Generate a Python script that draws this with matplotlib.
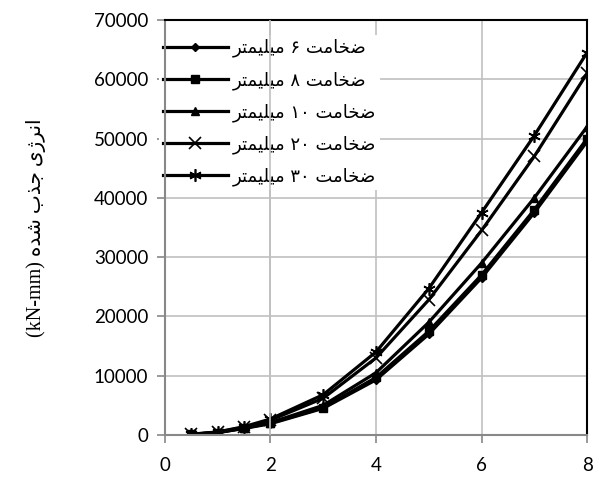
import matplotlib.pyplot as plt

# data
thickness = [0.5, 1, 1.5, 2, 3, 4, 5, 6, 7, 8]
e6 = [100, 400, 1100, 1900, 4500, 9300, 17000, 26500, 37500, 49500]
e8 = [100, 400, 1150, 2000, 4600, 9700, 17500, 27000, 38000, 50000]
e10 = [100, 420, 1200, 2100, 5000, 10500, 19000, 29000, 40000, 52000]
e20 = [120, 480, 1300, 2500, 6200, 13000, 22800, 34500, 47000, 61000]
e30 = [130, 520, 1400, 2700, 6800, 14000, 24700, 37500, 50500, 64500]

names = ['ضخامت ۶ میلیمتر', 'ضخامت ۸ میلیمتر', 'ضخامت ۱۰ میلیمتر',
         'ضخامت ۲۰ میلیمتر', 'ضخامت ۳۰ میلیمتر']
ylabel_fa = 'انرژی جذب شده'

# minimal persian shaping (matplotlib has no arabic shaping)
FORMS = {
    'ا': ('\uFE8D', '\uFE8E'),
    'ب': ('\uFE8F', '\uFE90', '\uFE91', '\uFE92'),
    'ت': ('\uFE95', '\uFE96', '\uFE97', '\uFE98'),
    'ج': ('\uFE9D', '\uFE9E', '\uFE9F', '\uFEA0'),
    'خ': ('\uFEA5', '\uFEA6', '\uFEA7', '\uFEA8'),
    'د': ('\uFEA9', '\uFEAA'),
    'ذ': ('\uFEAB', '\uFEAC'),
    'ر': ('\uFEAD', '\uFEAE'),
    'ژ': ('\uFB8A', '\uFB8B'),
    'ش': ('\uFEB5', '\uFEB6', '\uFEB7', '\uFEB8'),
    'ض': ('\uFEBD', '\uFEBE', '\uFEBF', '\uFEC0'),
    'ل': ('\uFEDD', '\uFEDE', '\uFEDF', '\uFEE0'),
    'م': ('\uFEE1', '\uFEE2', '\uFEE3', '\uFEE4'),
    'ن': ('\uFEE5', '\uFEE6', '\uFEE7', '\uFEE8'),
    'ه': ('\uFEE9', '\uFEEA', '\uFEEB', '\uFEEC'),
    'ی': ('\uFBFC', '\uFBFD', '\uFBFE', '\uFBFF'),
}


def shape_word(w):
    out = []
    for i, c in enumerate(w):
        if c not in FORMS:
            out.append(c)
            continue
        f = FORMS[c]
        prev = i > 0 and w[i - 1] in FORMS and len(FORMS[w[i - 1]]) == 4
        nxt = i < len(w) - 1 and w[i + 1] in FORMS and len(f) == 4
        if prev and nxt:
            out.append(f[3])
        elif prev:
            out.append(f[1])
        elif nxt:
            out.append(f[2])
        else:
            out.append(f[0])
    return ''.join(out)


def rtl(s):
    words = []
    for w in s.split(' '):
        if w and w[0] in FORMS:
            w = shape_word(w)[::-1]
        words.append(w)
    return ' '.join(words[::-1])


plt.rcParams['font.family'] = ['Lato', 'DejaVu Sans']

fig = plt.figure(figsize=(5.93, 4.82), dpi=100)
ax = fig.add_axes([0.278, 0.0975, 0.712, 0.861])

lw = 2.3
ax.plot(thickness, e6, color='black', lw=lw, marker='D', ms=4, label=rtl(names[0]))
ax.plot(thickness, e8, color='black', lw=lw, marker='s', ms=6, label=rtl(names[1]))
ax.plot(thickness, e10, color='black', lw=lw, marker='^', ms=6, label=rtl(names[2]))
ax.plot(thickness, e20, color='black', lw=lw, marker='x', ms=8, mew=1.2, label=rtl(names[3]))
ax.plot(thickness, e30, color='black', lw=lw, marker=(6, 2, 0), ms=9, mew=1.2, label=rtl(names[4]))

ax.set_xlim(0, 8)
ax.set_ylim(0, 70000)
ax.set_xticks([0, 2, 4, 6, 8])
ax.set_yticks(range(0, 70001, 10000))
ax.grid(True, color='#c0c0c0', lw=1.2)
ax.set_axisbelow(True)

for s in ['left', 'bottom']:
    ax.spines[s].set_color('#888888')
    ax.spines[s].set_linewidth(1.5)
for s in ['top', 'right']:
    ax.spines[s].set_color('black')
    ax.spines[s].set_linewidth(1.5)

ax.tick_params(axis='both', direction='out', length=6, width=1.2, color='#888888',
               labelsize=13.5)
ax.tick_params(axis='x', pad=10)
ax.tick_params(axis='y', pad=6)

ax.set_ylabel('(kN-mm) ' + rtl(ylabel_fa), fontsize=14.5,
              family=['Liberation Serif', 'DejaVu Sans'], labelpad=34)

leg = ax.legend(loc='upper left', bbox_to_anchor=(-0.035, 0.985), frameon=True,
                fancybox=False, edgecolor='none', framealpha=1, borderpad=0.2,
                handlelength=3.6, handletextpad=0.3, labelspacing=0.75,
                prop={'family': 'DejaVu Sans', 'size': 13})
leg.set_zorder(2.4)  # keep the left spine visible over the legend box
# vertical gridline shows through the legend in the original
ax.axvline(2, color='#c0c0c0', lw=1.2, zorder=6)

plt.savefig('out.png')
